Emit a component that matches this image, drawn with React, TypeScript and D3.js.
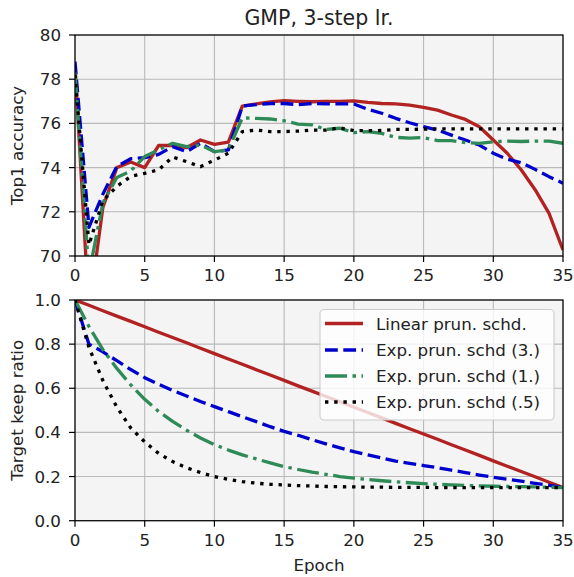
import React from "react";
import * as d3 from "d3";

const epochs = [0,1,2,3,4,5,6,7,8,9,10,11,12,13,14,15,16,17,18,19,20,21,22,23,24,25,26,27,28,29,30,31,32,33,34,35];

const seriesNames = ["Linear prun. schd.", "Exp. prun. schd (3.)", "Exp. prun. schd (1.)", "Exp. prun. schd (.5)"];

const accLinear = [78.6,67.5,72.2,74.0,74.25,74.0,75.0,75.0,74.9,75.25,75.05,75.15,76.78,76.88,76.97,77.03,77.0,76.98,77.0,77.0,77.02,76.95,76.9,76.88,76.83,76.73,76.6,76.38,76.18,75.85,75.25,74.65,73.9,73.0,71.93,70.27];
const accExp3 = [78.8,71.3,72.8,74.05,74.4,74.45,74.6,74.95,74.72,75.1,74.72,74.8,76.78,76.85,76.9,76.9,76.85,76.9,76.88,76.88,76.88,76.64,76.46,76.23,76.03,75.85,75.7,75.47,75.25,75.02,74.65,74.38,74.22,73.92,73.59,73.29];
const accExp1 = [78.3,69.2,72.4,73.55,73.85,74.5,74.8,75.1,74.95,75.02,74.72,74.8,76.25,76.23,76.2,76.12,75.97,75.93,75.73,75.78,75.58,75.63,75.55,75.37,75.33,75.36,75.22,75.22,75.13,75.1,75.17,75.2,75.18,75.2,75.2,75.1];
const accExp05 = [78.2,70.5,72.5,73.15,73.6,73.74,73.9,74.48,74.27,74.04,74.34,74.65,75.63,75.7,75.63,75.63,75.65,75.7,75.7,75.8,75.67,75.67,75.68,75.73,75.73,75.74,75.75,75.75,75.75,75.75,75.75,75.75,75.75,75.75,75.75,75.75];

const keepLinear = [1.0,0.976,0.951,0.927,0.903,0.879,0.854,0.83,0.806,0.781,0.757,0.733,0.709,0.684,0.66,0.636,0.611,0.587,0.563,0.539,0.514,0.49,0.466,0.441,0.417,0.393,0.369,0.344,0.32,0.296,0.271,0.247,0.223,0.199,0.174,0.15];
const keepExp3 = [1.0,0.8,0.765,0.725,0.685,0.648,0.618,0.59,0.565,0.54,0.517,0.494,0.471,0.449,0.426,0.405,0.387,0.367,0.348,0.33,0.313,0.298,0.284,0.27,0.26,0.25,0.24,0.229,0.218,0.207,0.197,0.188,0.179,0.169,0.16,0.15];
const keepExp1 = [1.0,0.88,0.775,0.69,0.615,0.55,0.495,0.45,0.41,0.375,0.345,0.32,0.298,0.28,0.262,0.245,0.232,0.22,0.21,0.2,0.193,0.187,0.181,0.176,0.172,0.168,0.165,0.162,0.16,0.158,0.156,0.155,0.154,0.153,0.152,0.15];
const keepExp05 = [1.0,0.785,0.635,0.515,0.42,0.357,0.305,0.268,0.24,0.218,0.2,0.187,0.177,0.17,0.165,0.162,0.159,0.157,0.155,0.154,0.153,0.152,0.152,0.151,0.151,0.151,0.15,0.15,0.15,0.15,0.15,0.15,0.15,0.15,0.15,0.15];

const xTicks = [0, 5, 10, 15, 20, 25, 30, 35];
const accTicks = [70, 72, 74, 76, 78, 80];
const keepTicks = [0.0, 0.2, 0.4, 0.6, 0.8, 1.0];

const W = 574, H = 577;
const FONT = "DejaVu Sans, sans-serif";
const styles = [
  { color: "#b22222", dash: "none" },
  { color: "#0000cd", dash: "12.8,5.5" },
  { color: "#2e8b57", dash: "22,5.5,3.5,5.5" },
  { color: "#000000", dash: "3.4,5.8" },
];

const left = 75, right = 563;
const x = d3.scaleLinear().domain([0, 35]).range([left, right]);
const yTop = d3.scaleLinear().domain([70, 80]).range([256, 35]);
const yBot = d3.scaleLinear().domain([0, 1]).range([520.7, 300]);

function Panel({ y, ticks, fmt, series, clipId, label }: any) {
  const [y1, y0] = y.range();
  const line = d3.line<number>().x((_, i) => x(epochs[i])).y((v) => y(v));
  return (
    <g>
      <defs>
        <clipPath id={clipId}>
          <rect x={left} y={y0} width={right - left} height={y1 - y0} />
        </clipPath>
      </defs>
      <rect x={left} y={y0} width={right - left} height={y1 - y0} fill="#f4f4f4" />
      {xTicks.map((t) => (
        <line key={"gx" + t} x1={x(t)} x2={x(t)} y1={y0} y2={y1} stroke="#b9b9b9" strokeWidth={1.1} />
      ))}
      {ticks.map((t: number) => (
        <line key={"gy" + t} x1={left} x2={right} y1={y(t)} y2={y(t)} stroke="#b9b9b9" strokeWidth={1.1} />
      ))}
      <g clipPath={`url(#${clipId})`}>
        {series.map((s: number[], i: number) => (
          <path key={i} d={line(s) || ""} fill="none" stroke={styles[i].color} strokeWidth={3.3}
            strokeDasharray={styles[i].dash} strokeLinejoin="round" />
        ))}
      </g>
      <rect x={left} y={y0} width={right - left} height={y1 - y0} fill="none" stroke="#000" strokeWidth={1.2} />
      {xTicks.map((t) => (
        <g key={"tx" + t}>
          <line x1={x(t)} x2={x(t)} y1={y1} y2={y1 + 6} stroke="#000" strokeWidth={1.2} />
          <text x={x(t)} y={y1 + 25} textAnchor="middle" fontSize={16.7} fontFamily={FONT} fill="#222">{t}</text>
        </g>
      ))}
      {ticks.map((t: number) => (
        <g key={"ty" + t}>
          <line x1={left - 6} x2={left} y1={y(t)} y2={y(t)} stroke="#000" strokeWidth={1.2} />
          <text x={left - 14} y={y(t) + 6} textAnchor="end" fontSize={16.7} fontFamily={FONT} fill="#222">{fmt(t)}</text>
        </g>
      ))}
      <text transform={`translate(23,${(y0 + y1) / 2}) rotate(-90)`} textAnchor="middle" fontSize={16.7} fontFamily={FONT} fill="#222">{label}</text>
    </g>
  );
}

export default function App() {
  const legendRows = [323.5, 350, 376, 402];
  return (
    <svg width={W} height={H} style={{ position: "fixed", left: 0, top: 0, background: "#fff" }}>
      <rect width={W} height={H} fill="#fff" />
      <text x={(left + right) / 2} y={25} textAnchor="middle" fontSize={20.5} fontFamily={FONT} fill="#222">GMP, 3-step lr.</text>
      <Panel y={yTop} ticks={accTicks} fmt={(t: number) => String(t)} series={[accLinear, accExp3, accExp1, accExp05]} clipId="clipTop" label="Top1 accuracy" />
      <Panel y={yBot} ticks={keepTicks} fmt={(t: number) => t.toFixed(1)} series={[keepLinear, keepExp3, keepExp1, keepExp05]} clipId="clipBot" label="Target keep ratio" />
      <text x={(left + right) / 2} y={571} textAnchor="middle" fontSize={16.7} fontFamily={FONT} fill="#222">Epoch</text>
      <g>
        <rect x={320} y={309.5} width={234} height={110.5} rx={4} fill="#fff" fillOpacity={0.8} stroke="#cccccc" strokeWidth={1.1} />
        {seriesNames.map((n, i) => (
          <g key={n}>
            <line x1={325} x2={363} y1={legendRows[i]} y2={legendRows[i]} stroke={styles[i].color} strokeWidth={3.3} strokeDasharray={styles[i].dash} />
            <text x={376} y={legendRows[i] + 6} fontSize={16.7} fontFamily={FONT} fill="#222">{n}</text>
          </g>
        ))}
      </g>
    </svg>
  );
}
